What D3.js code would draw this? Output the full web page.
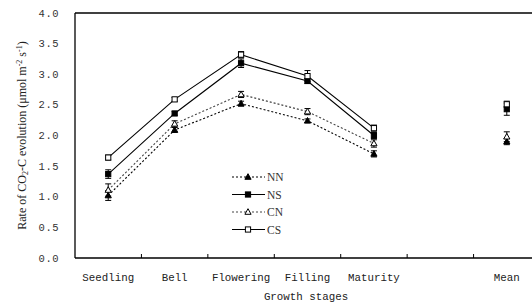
<!DOCTYPE html>
<html>
<head>
<meta charset="utf-8">
<script src="https://cdn.jsdelivr.net/npm/d3@7"></script>
<style>
  body { margin: 0; background: #fff; overflow: hidden; }
  svg { display: block; }
</style>
</head>
<body>
<div id="chart"></div>
<script>
// Data
const stages = ["Seedling", "Bell", "Flowering", "Filling", "Maturity", "", "Mean"];
const lineStages = ["Seedling", "Bell", "Flowering", "Filling", "Maturity"];
const seriesNames = ["NN", "NS", "CN", "CS"];
// values per stage (Seedling..Maturity, Mean)
const nnValues = [1.02, 2.09, 2.52, 2.24, 1.70, 1.90];
const nsValues = [1.37, 2.36, 3.18, 2.89, 2.00, 2.43];
const cnValues = [1.11, 2.19, 2.67, 2.39, 1.87, 1.98];
const csValues = [1.64, 2.59, 3.32, 2.97, 2.12, 2.51];
const nnErrors = [0.08, 0.04, 0.04, 0.03, 0.05, 0.05];
const nsErrors = [0.07, 0.03, 0.07, 0.04, 0.05, 0.10];
const cnErrors = [0.10, 0.05, 0.05, 0.05, 0.06, 0.08];
const csErrors = [0.04, 0.03, 0.05, 0.09, 0.05, 0.05];
const yTicks = [0, 0.5, 1.0, 1.5, 2.0, 2.5, 3.0, 3.5, 4.0];

// Config
const width = 532;
const height = 306;
const margin = { left: 75, top: 13, right: -8, bottom: 48 };

const series = [
    { name: "NN", values: nnValues, errors: nnErrors, dash: "2,2", color: "#000", marker: "tri", fill: "#000" },
    { name: "NS", values: nsValues, errors: nsErrors, dash: null, color: "#000", marker: "sq", fill: "#000" },
    { name: "CN", values: cnValues, errors: cnErrors, dash: "2,2", color: "#444", marker: "tri", fill: "#fff" },
    { name: "CS", values: csValues, errors: csErrors, dash: null, color: "#000", marker: "sq", fill: "#fff" }
];

const svg = d3.select("#chart").append("svg")
    .attr("width", width)
    .attr("height", height);

const x = d3.scaleBand()
    .domain(stages)
    .range([margin.left, width - margin.right])
    .padding(0);

const y = d3.scaleLinear()
    .domain([0, 4])
    .range([height - margin.bottom, margin.top]);

const xc = s => x(s) + x.bandwidth() / 2;
const x0 = margin.left, x1 = width - margin.right;
const y0 = y(0), yTop = y(4);

// Frame
svg.append("line").attr("x1", x0).attr("x2", x1).attr("y1", yTop).attr("y2", yTop)
    .attr("stroke", "#000").attr("stroke-width", 1.3);
svg.append("line").attr("x1", x0).attr("x2", x0).attr("y1", yTop).attr("y2", y0)
    .attr("stroke", "#000").attr("stroke-width", 1.3);
svg.append("line").attr("x1", x0).attr("x2", x1).attr("y1", y0).attr("y2", y0)
    .attr("stroke", "#000").attr("stroke-width", 1.3);

// X ticks (inward, at band borders)
stages.slice(1).forEach(s => {
    svg.append("line")
        .attr("x1", x(s)).attr("x2", x(s))
        .attr("y1", y0).attr("y2", y0 - 4)
        .attr("stroke", "#000").attr("stroke-width", 1);
});

// X labels
svg.selectAll(".xlab").data(stages).join("text")
    .attr("class", "xlab")
    .attr("x", d => xc(d))
    .attr("y", 281)
    .attr("text-anchor", "middle")
    .attr("font-family", "Liberation Mono, DejaVu Sans Mono, monospace")
    .attr("font-size", 10.8)
    .attr("fill", "#222")
    .text(d => d);

// Y labels
svg.selectAll(".ylab").data(yTicks).join("text")
    .attr("class", "ylab")
    .attr("x", 59)
    .attr("y", d => y(d) + 3.5)
    .attr("text-anchor", "end")
    .attr("font-family", "Liberation Mono, DejaVu Sans Mono, monospace")
    .attr("font-size", 10.5)
    .attr("letter-spacing", 0.5)
    .attr("fill", "#333")
    .text(d => d3.format(".1f")(d));

// Axis titles
svg.append("text")
    .attr("x", 306).attr("y", 300)
    .attr("text-anchor", "middle")
    .attr("font-family", "Liberation Mono, DejaVu Sans Mono, monospace")
    .attr("font-size", 10.8)
    .attr("fill", "#222")
    .text("Growth stages");

const yt = svg.append("text")
    .attr("transform", `translate(26,${(yTop + y0) / 2}) rotate(-90)`)
    .attr("text-anchor", "middle")
    .attr("font-family", "Liberation Serif, Times New Roman, serif")
    .attr("font-size", 12)
    .attr("fill", "#222");
yt.append("tspan").text("Rate of CO");
yt.append("tspan").attr("font-size", 8).attr("dy", 2).text("2");
yt.append("tspan").attr("dy", -2).text("-C evolution (\u03bcmol m");
yt.append("tspan").attr("font-size", 8).attr("dy", -4).text("-2");
yt.append("tspan").attr("dy", 4).text(" s");
yt.append("tspan").attr("font-size", 8).attr("dy", -4).text("-1");
yt.append("tspan").attr("dy", 4).text(")");

// Markers
function drawMarker(g, type, cx, cy, fill, color) {
    if (type === "tri") {
        g.append("path")
            .attr("d", `M${cx},${cy - 3.3}L${cx + 3.1},${cy + 2.3}L${cx - 3.1},${cy + 2.3}Z`)
            .attr("fill", fill).attr("stroke", color).attr("stroke-width", 1);
    } else {
        g.append("rect")
            .attr("x", cx - 2.6).attr("y", cy - 2.6)
            .attr("width", 5.2).attr("height", 5.2)
            .attr("fill", fill).attr("stroke", color).attr("stroke-width", 1);
    }
}

const line = d3.line().x(d => xc(d.stage)).y(d => y(d.v));

series.forEach(s => {
    const g = svg.append("g");
    const pts = lineStages.map((st, i) => ({ stage: st, v: s.values[i], e: s.errors[i] }));
    pts.push({ stage: "Mean", v: s.values[5], e: s.errors[5] });

    g.append("path")
        .datum(pts.slice(0, 5))
        .attr("d", line)
        .attr("fill", "none")
        .attr("stroke", s.color)
        .attr("stroke-width", 1.1)
        .attr("stroke-dasharray", s.dash);

    pts.forEach(p => {
        const cx = xc(p.stage);
        g.append("line")
            .attr("x1", cx).attr("x2", cx)
            .attr("y1", y(p.v - p.e)).attr("y2", y(p.v + p.e))
            .attr("stroke", "#000").attr("stroke-width", 1);
        [p.v - p.e, p.v + p.e].forEach(v => {
            g.append("line")
                .attr("x1", cx - 3).attr("x2", cx + 3)
                .attr("y1", y(v)).attr("y2", y(v))
                .attr("stroke", "#000").attr("stroke-width", 1);
        });
        drawMarker(g, s.marker, cx, y(p.v), s.fill, "#000");
    });
});

// Legend
const legend = svg.append("g");
series.forEach((s, i) => {
    const ly = 177 + i * 17.5;
    legend.append("line")
        .attr("x1", 232).attr("x2", 265)
        .attr("y1", ly).attr("y2", ly)
        .attr("stroke", s.color)
        .attr("stroke-width", 1.1)
        .attr("stroke-dasharray", s.dash);
    drawMarker(legend, s.marker, 248, ly, s.fill, "#000");
    legend.append("text")
        .attr("x", 267).attr("y", ly + 4)
        .attr("font-family", "Liberation Serif, Times New Roman, serif")
        .attr("font-size", 11.5)
        .attr("fill", "#333")
        .text(s.name);
});
</script>
</body>
</html>
